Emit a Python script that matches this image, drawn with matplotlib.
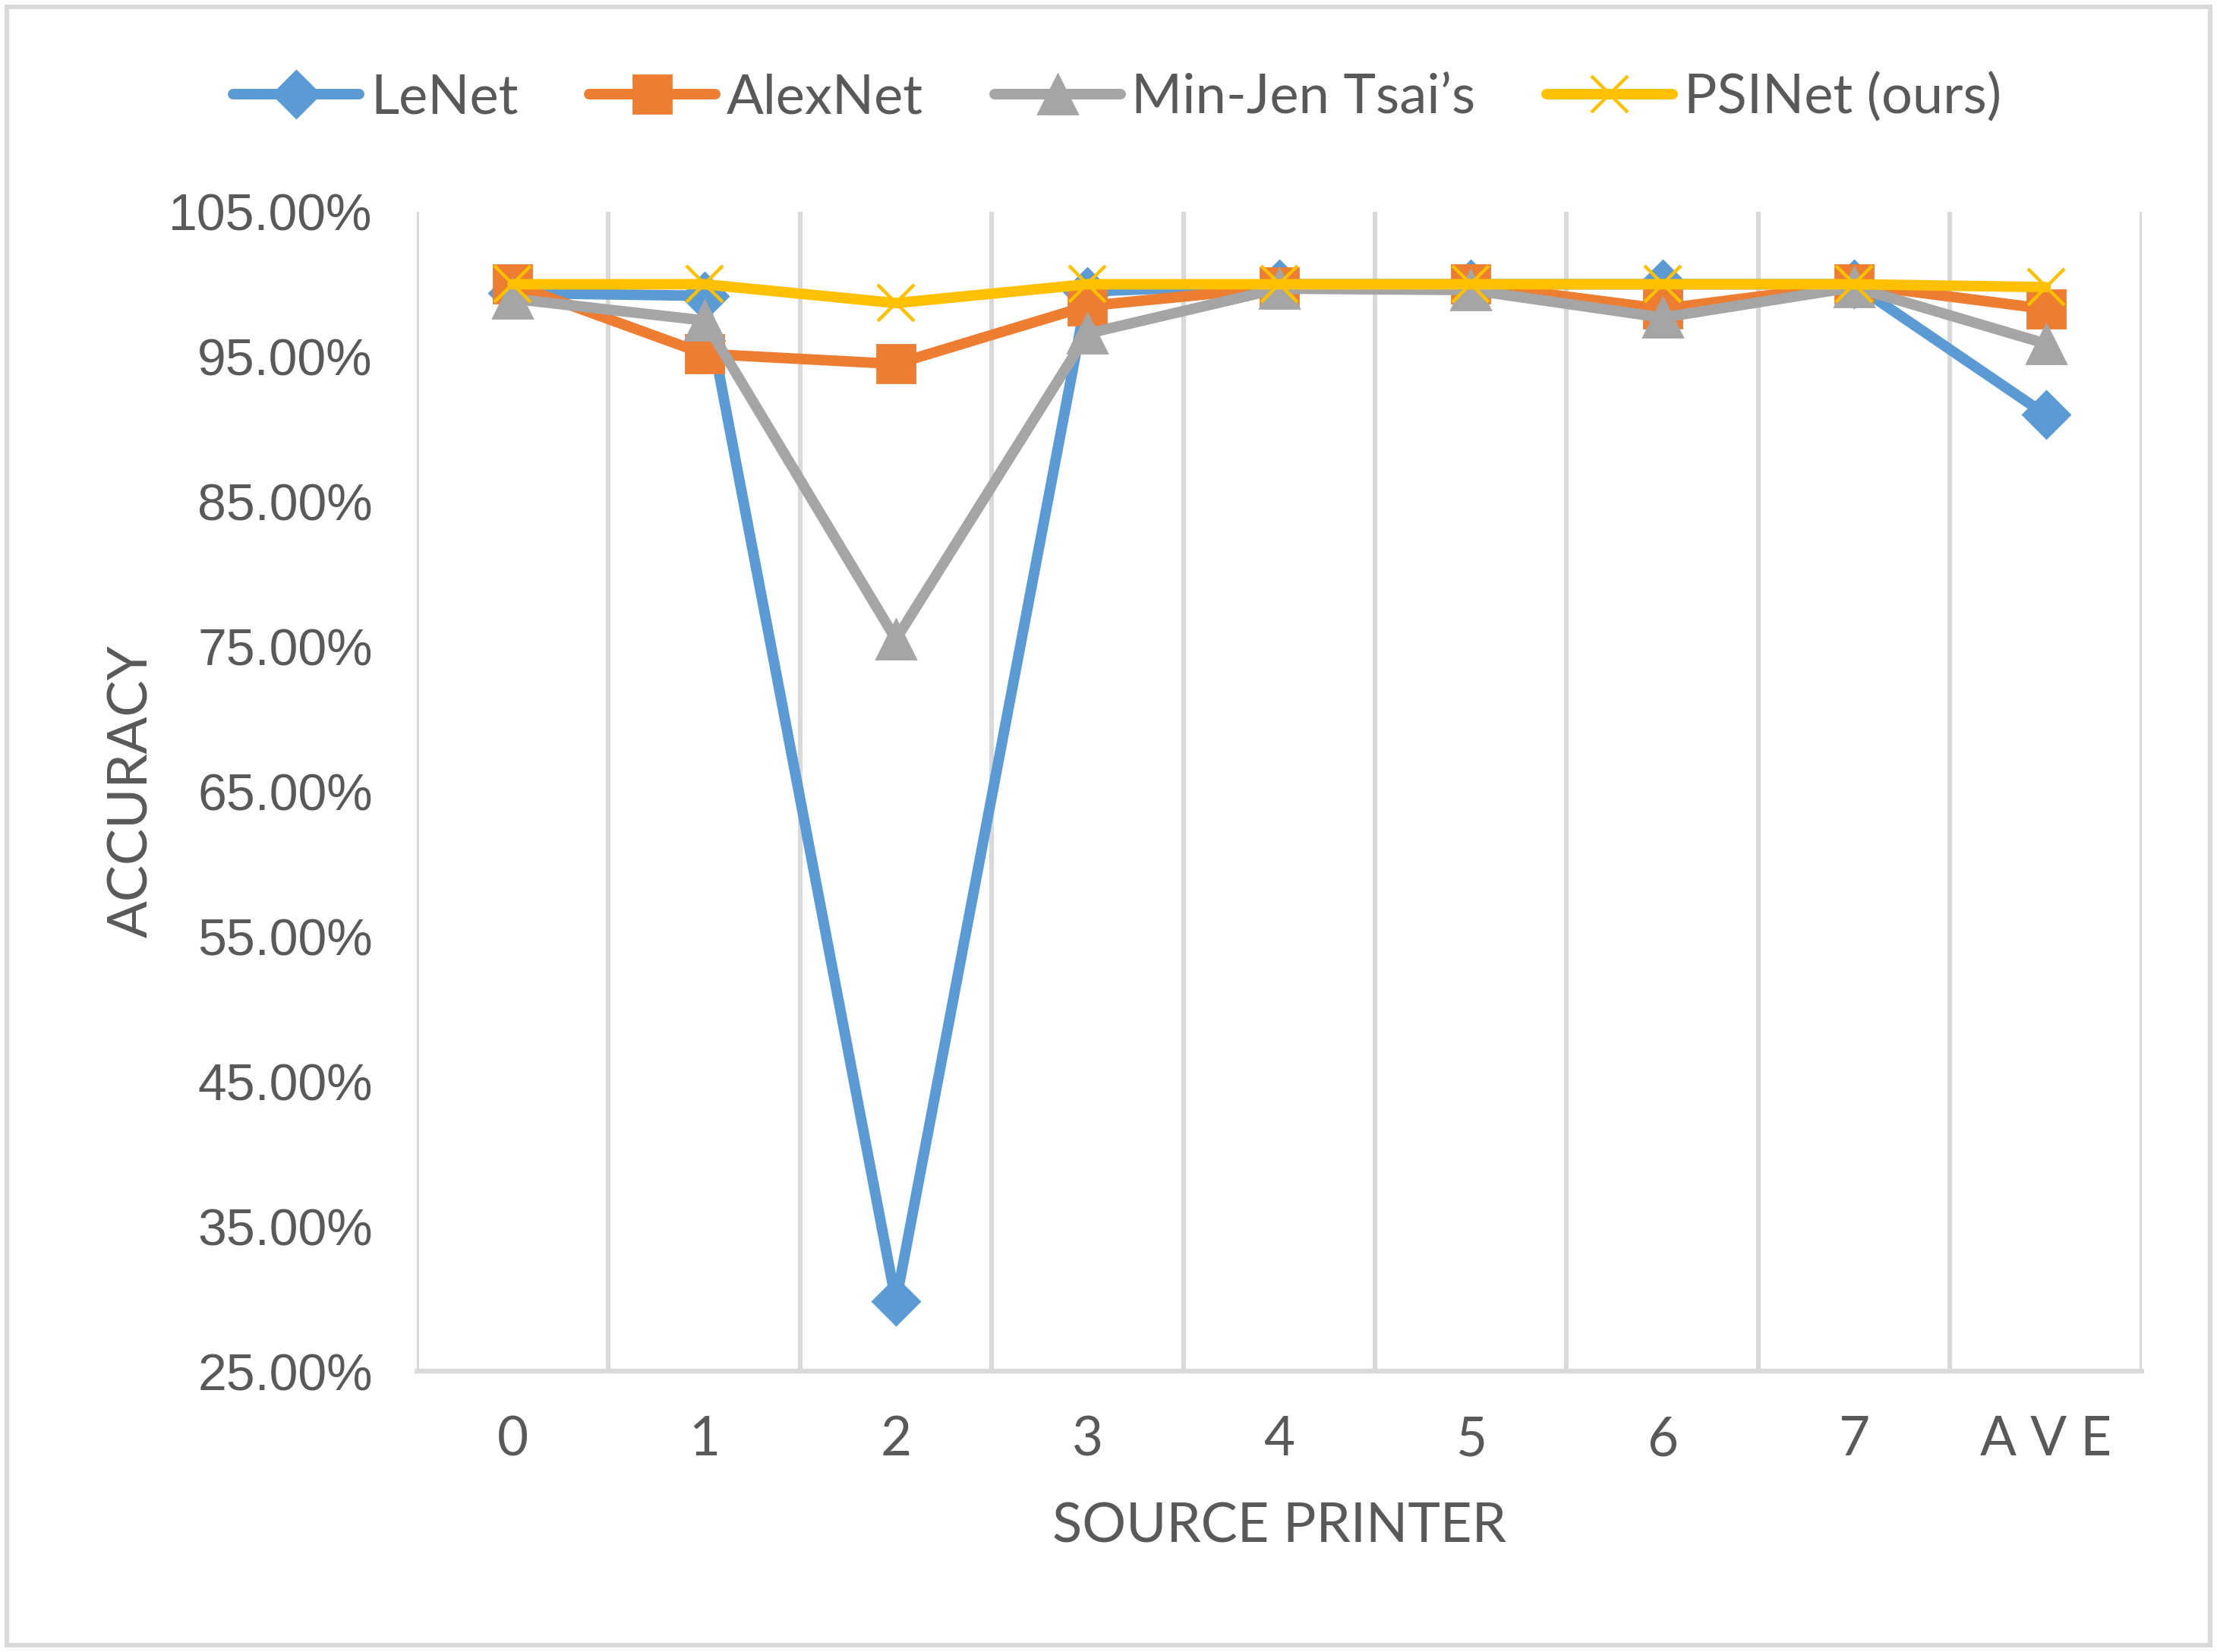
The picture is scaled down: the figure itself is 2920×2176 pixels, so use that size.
import matplotlib
matplotlib.use("Agg")
import matplotlib.pyplot as plt
from matplotlib.patches import Rectangle
from matplotlib.ticker import FuncFormatter

# accuracy (%) per source printer
printers = ['0', '1', '2', '3', '4', '5', '6', '7', 'A V E']
lenet = [99.4, 99.2, 29.8, 99.5, 100.0, 100.0, 100.0, 100.0, 91.0]
alexnet = [100.0, 95.2, 94.5, 98.5, 99.8, 100.0, 98.3, 100.0, 98.3]
tsai = [99.0, 97.5, 75.5, 96.6, 99.7, 99.6, 97.7, 99.8, 95.9]
psinet = [100.0, 100.0, 98.7, 100.0, 100.0, 100.0, 100.0, 100.0, 99.8]

series = [
    ('LeNet', lenet, '#5B9BD5', 'D', 16),
    ('AlexNet', alexnet, '#ED7D31', 's', 18),
    ('Min-Jen Tsai\u2019s', tsai, '#A5A5A5', '^', 19),
    ('PSINet (ours)', psinet, '#FFC000', 'x', 17),
]

text_col = '#595959'
grid_col = '#D9D9D9'
title_font = ['Lato', 'DejaVu Sans']
num_font = ['Liberation Sans', 'DejaVu Sans']

fig = plt.figure(figsize=(14.6, 10.88), dpi=200)
ax = fig.add_axes([0.188, 0.170, 0.778, 0.7018])

x = list(range(len(printers)))
for name, vals, col, mk, ms in series:
    if mk == 'x':
        ax.plot(x, vals, color=col, lw=5, marker=mk, ms=ms, mew=1.6,
                mec=col, label=name, solid_capstyle='round')
    else:
        ax.plot(x, vals, color=col, lw=5, marker=mk, ms=ms, mec=col,
                mfc=col, label=name, solid_capstyle='round')

ax.set_xlim(-0.5, len(printers) - 0.5)
ax.set_ylim(25, 105)
ax.set_yticks(range(25, 106, 10))
ax.yaxis.set_major_formatter(FuncFormatter(lambda v, p: f'{v:.2f}%'))
ax.set_xticks(x)
ax.set_xticklabels(printers)

# vertical gridlines between categories
for k in range(-1, len(printers)):
    ax.axvline(k + 0.5, color=grid_col, lw=2.2, zorder=0)

for s in ['top', 'right', 'left']:
    ax.spines[s].set_visible(False)
ax.spines['bottom'].set_color(grid_col)
ax.spines['bottom'].set_linewidth(2.2)
ax.tick_params(length=0, colors=text_col)
ax.tick_params(axis='y', pad=21, labelsize=24.5)
ax.tick_params(axis='x', pad=21, labelsize=25.5)
for lab in ax.get_yticklabels():
    lab.set_family(num_font)
for lab in ax.get_xticklabels():
    lab.set_family(title_font)

ax.set_ylabel('ACCURACY', fontsize=26, color=text_col, family=title_font)
ax.set_xlabel('SOURCE PRINTER', fontsize=26, color=text_col, family=title_font)
ax.yaxis.set_label_coords(-0.151, 0.5)
ax.xaxis.set_label_coords(0.5, -0.113)

leg = fig.legend(loc='center', bbox_to_anchor=(0.504, 0.941), ncol=4,
                 frameon=False, handlelength=2.3,
                 handletextpad=0.2, columnspacing=1.3,
                 prop={'family': title_font, 'size': 26})
for t in leg.get_texts():
    t.set_color(text_col)

fig.patches.append(Rectangle((0.003, 0.004), 0.994, 0.992, transform=fig.transFigure,
                             fill=False, ec=grid_col, lw=2.2))

fig.savefig('out.png', dpi=200, facecolor='white')
